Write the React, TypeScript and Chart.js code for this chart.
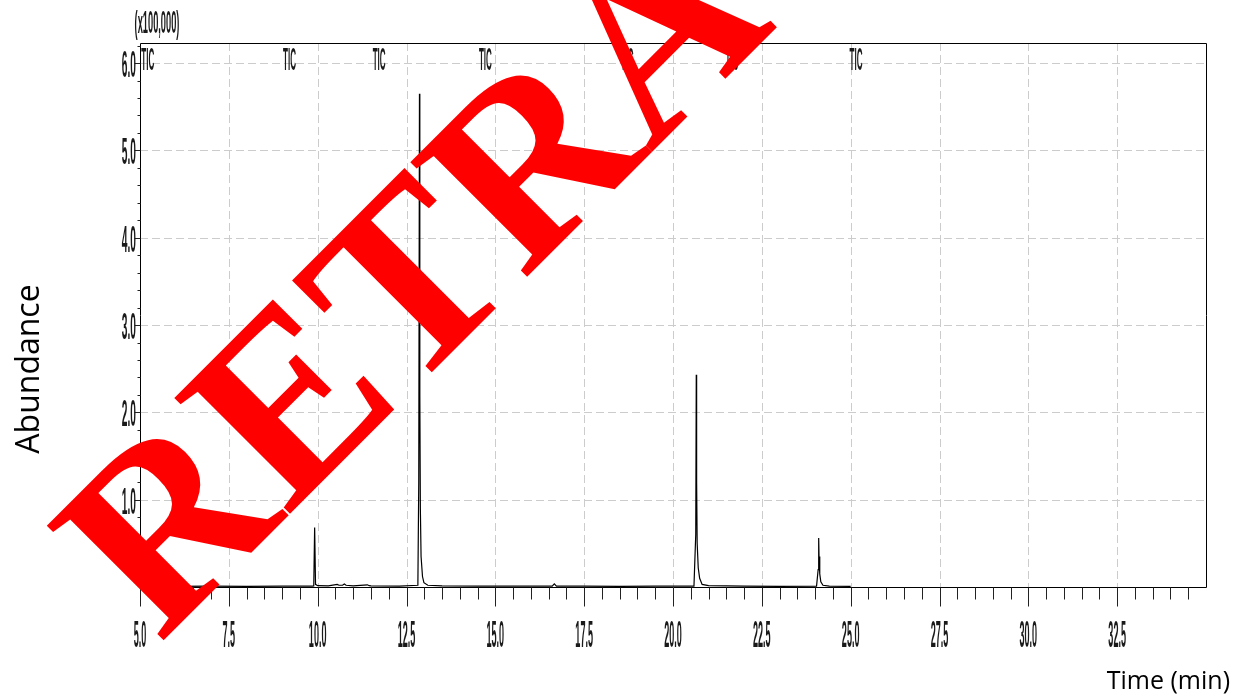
import { useEffect, useRef } from "react";
import { Chart, registerables } from "chart.js";

Chart.register(...registerables);

// ---- data (retention time in min, abundance in x100,000) ----
const retentionTimes = [
  5.0, 6.0, 7.0, 8.0, 9.0, 9.85, 9.89, 9.915, 9.94, 10.0, 10.3, 10.55, 10.6, 10.7, 10.75,
  10.8, 11.0, 11.4, 11.45, 11.5, 12.3, 12.82, 12.845, 12.865, 12.875, 12.89, 12.91, 12.95,
  12.99, 13.1, 13.5, 14.5, 15.5, 16.6, 16.66, 16.72, 17.5, 18.5, 19.5, 20.59, 20.64,
  20.655, 20.665, 20.68, 20.71, 20.75, 20.82, 21.0, 22.0, 23.0, 24.04, 24.085, 24.1,
  24.11, 24.13, 24.16, 24.22, 24.4, 25.0,
];
const abundance = [
  0.008, 0.008, 0.01, 0.008, 0.01, 0.01, 0.012, 0.68, 0.03, 0.015, 0.012, 0.03, 0.02, 0.02,
  0.035, 0.02, 0.012, 0.025, 0.015, 0.012, 0.01, 0.02, 1.2, 5.65, 2.2, 0.9, 0.35, 0.12,
  0.05, 0.02, 0.012, 0.01, 0.01, 0.01, 0.035, 0.01, 0.01, 0.008, 0.01, 0.01, 0.6, 2.43,
  1.2, 0.5, 0.22, 0.1, 0.03, 0.015, 0.01, 0.008, 0.01, 0.2, 0.56, 0.35, 0.15, 0.06, 0.02,
  0.01, 0.008,
];

const xTickValues = [5, 7.5, 10, 12.5, 15, 17.5, 20, 22.5, 25, 27.5, 30, 32.5];
const xTickLabels = ["5.0", "7.5", "10.0", "12.5", "15.0", "17.5", "20.0", "22.5", "25.0", "27.5", "30.0", "32.5"];
const yTickValues = [1, 2, 3, 4, 5, 6];
const yTickLabels = ["1.0", "2.0", "3.0", "4.0", "5.0", "6.0"];
const ticMarkerTimes = [5.22, 9.21, 11.73, 14.72, 18.71, 21.66, 25.15];
const ticMarkerLabel = "TIC";
const yScaleLabel = "(x100,000)";
const yAxisTitle = "Abundance";
const xAxisTitle = "Time (min)";
const watermarkText = "RETRACTED";

const X_MIN = 5;
const X_MAX = 35;
const Y_MIN = 0;
const Y_MAX = 6.23;

function condensed(ctx: CanvasRenderingContext2D, text: string, x: number, y: number, align: CanvasTextAlign, sx: number, size: number) {
  ctx.save();
  ctx.translate(x, y);
  ctx.scale(sx, 1);
  ctx.font = `bold ${size}px "Liberation Sans", Arial, sans-serif`;
  ctx.textAlign = align;
  ctx.textBaseline = "alphabetic";
  ctx.fillStyle = "#1a1a1a";
  ctx.fillText(text, 0, 0);
  ctx.restore();
}

function seg(ctx: CanvasRenderingContext2D, x1: number, y1: number, x2: number, y2: number) {
  ctx.beginPath();
  ctx.moveTo(x1, y1);
  ctx.lineTo(x2, y2);
  ctx.stroke();
}

const decorPlugin = {
  id: "decor",
  beforeDatasetsDraw(chart: any) {
    const { ctx, chartArea: ca } = chart;
    const xs = chart.scales.x;
    const ys = chart.scales.y;
    ctx.save();
    ctx.strokeStyle = "#cccccc";
    ctx.lineWidth = 1;
    ctx.setLineDash([8, 4]);
    for (const v of xTickValues) {
      if (v <= X_MIN) continue;
      const px = Math.round(xs.getPixelForValue(v)) + 0.5;
      seg(ctx, px, ca.top, px, ca.bottom);
    }
    for (const v of yTickValues) {
      const py = Math.round(ys.getPixelForValue(v)) + 0.5;
      seg(ctx, ca.left, py, ca.right, py);
    }
    ctx.setLineDash([]);
    ctx.restore();
  },
  afterDatasetsDraw(chart: any) {
    const { ctx, chartArea: ca } = chart;
    const xs = chart.scales.x;
    const ys = chart.scales.y;
    ctx.save();
    ctx.strokeStyle = "#000";
    ctx.lineWidth = 1;
    const L = Math.round(ca.left) + 0.5;
    const R = Math.round(ca.right) + 0.5;
    const T = Math.round(ca.top) + 0.5;
    const B = Math.round(ca.bottom) + 0.5;
    seg(ctx, L, T, R, T);
    seg(ctx, R, T, R, B);
    seg(ctx, L, T, L, B);
    seg(ctx, L, B, R, B);

    // x ticks (minor every 0.5 min, major at labels)
    ctx.strokeStyle = "#222";
    for (let v = X_MIN; v < X_MAX - 0.01; v += 0.5) {
      const px = Math.round(xs.getPixelForValue(v)) + 0.5;
      const major = xTickValues.some((m) => Math.abs(m - v) < 1e-6);
      seg(ctx, px, B, px, B + (major ? 19 : 12));
    }
    // y ticks (minor every 0.2)
    for (let v = 0.2; v < Y_MAX; v += 0.2) {
      const py = Math.round(ys.getPixelForValue(v)) + 0.5;
      const major = yTickValues.some((m) => Math.abs(m - v) < 1e-6);
      seg(ctx, L - (major ? 6 : 3), py, L, py);
    }

    // tick labels
    xTickValues.forEach((v, i) => {
      condensed(ctx, xTickLabels[i], xs.getPixelForValue(v), 647, "center", 0.245, 37);
    });
    yTickValues.forEach((v, i) => {
      condensed(ctx, yTickLabels[i], 136, ys.getPixelForValue(v) + 14, "right", 0.275, 37);
    });
    condensed(ctx, yScaleLabel, 157, 33, "center", 0.29, 32);

    // TIC markers
    for (const t of ticMarkerTimes) {
      condensed(ctx, ticMarkerLabel, xs.getPixelForValue(t), 70, "center", 0.26, 31);
    }

    // axis titles
    ctx.fillStyle = "#000";
    ctx.font = '32px "Open Sans", sans-serif';
    ctx.textBaseline = "alphabetic";
    ctx.textAlign = "center";
    ctx.save();
    ctx.translate(39, 369);
    ctx.rotate(-Math.PI / 2);
    ctx.fillText(yAxisTitle, 0, 0);
    ctx.restore();
    ctx.font = '25px "Open Sans", sans-serif';
    ctx.textAlign = "right";
    ctx.fillText(xAxisTitle, 1230, 689);
    ctx.restore();
  },
  afterDraw(chart: any) {
    const { ctx } = chart;
    ctx.save();
    ctx.rotate(-Math.PI / 4);
    ctx.fillStyle = "#ff0000";
    ctx.font = 'bold 250px "Liberation Serif", "Times New Roman", serif';
    ctx.textAlign = "left";
    ctx.textBaseline = "alphabetic";
    ctx.fillText(watermarkText, -343, 568.5);
    ctx.restore();
  },
};

export default function App() {
  const ref = useRef<HTMLCanvasElement>(null);
  useEffect(() => {
    const chart = new Chart(ref.current as HTMLCanvasElement, {
      type: "line",
      data: {
        datasets: [
          {
            data: retentionTimes.map((t, i) => ({ x: t, y: abundance[i] })),
            borderColor: "#000",
            borderWidth: 1.2,
            pointRadius: 0,
            fill: false,
            tension: 0,
          },
        ],
      },
      options: {
        responsive: false,
        animation: false,
        layout: { padding: { left: 140, right: 37, top: 43, bottom: 109 } },
        scales: {
          x: { type: "linear", min: X_MIN, max: X_MAX, display: false },
          y: { type: "linear", min: Y_MIN, max: Y_MAX, display: false },
        },
        plugins: { legend: { display: false }, tooltip: { enabled: false } },
      },
      plugins: [decorPlugin],
    } as any);
    return () => chart.destroy();
  }, []);
  return (
    <div style={{ position: "absolute", left: 0, top: 0, width: 1243, height: 696, background: "#fff" }}>
      <canvas ref={ref} width={1243} height={696} style={{ width: 1243, height: 696, display: "block" }} />
    </div>
  );
}
